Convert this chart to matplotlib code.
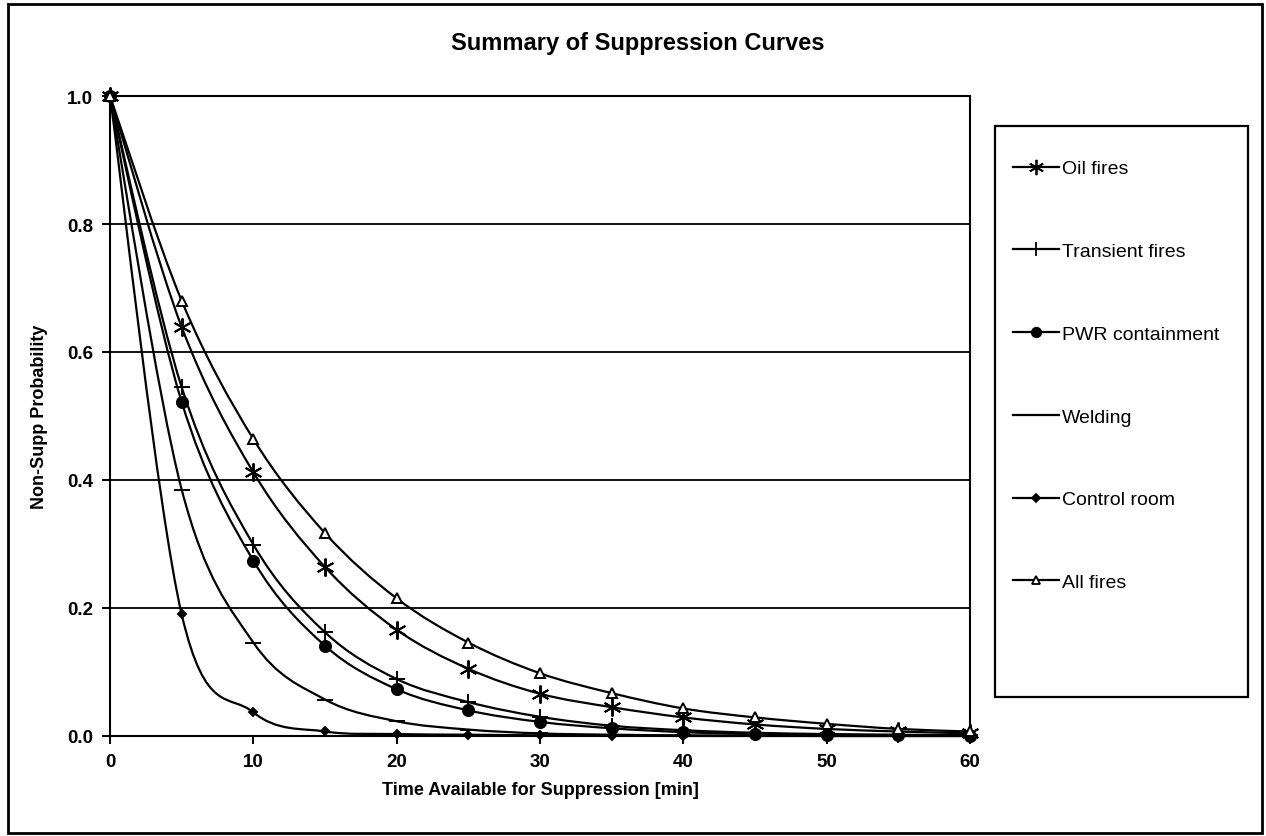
import numpy as np
import matplotlib
matplotlib.use("Agg")
import matplotlib.pyplot as plt
from matplotlib.path import Path
from matplotlib.patches import PathPatch, Rectangle
from matplotlib.lines import Line2D

plt.rcParams['font.family'] = ['Liberation Sans', 'DejaVu Sans']

# Time available for suppression [min]
minutes = [0, 5, 10, 15, 20, 25, 30, 35, 40, 45, 50, 55, 60]

# Non-suppression probability per fire category
oil_fires = [1.0, 0.639, 0.412, 0.264, 0.166, 0.105, 0.066, 0.045, 0.029, 0.018, 0.011, 0.007, 0.004]
transient_fires = [1.0, 0.545, 0.299, 0.162, 0.089, 0.053, 0.030, 0.016, 0.009, 0.005, 0.003, 0.002, 0.001]
pwr_containment = [1.0, 0.522, 0.274, 0.141, 0.073, 0.040, 0.022, 0.012, 0.006, 0.003, 0.002, 0.001, 0.0005]
welding = [1.0, 0.385, 0.146, 0.057, 0.023, 0.010, 0.004, 0.002, 0.001, 0.0005, 0.0, 0.0, 0.0]
control_room = [1.0, 0.190, 0.037, 0.007, 0.003, 0.002, 0.001, 0.0005, 0.0, 0.0, 0.0, 0.0, 0.0]
all_fires = [1.0, 0.680, 0.464, 0.317, 0.215, 0.146, 0.098, 0.067, 0.043, 0.029, 0.019, 0.011, 0.007]

series_labels = ["Oil fires", "Transient fires", "PWR containment",
                 "Welding", "Control room", "All fires"]
series_values = [oil_fires, transient_fires, pwr_containment,
                 welding, control_room, all_fires]

# marker styles: (marker, size, face colour)
marker_styles = [
    ((6, 2, 0), 13, 'black'),
    ('+', 12, 'black'),
    ('o', 8, 'black'),
    ('_', 11, 'black'),
    ('D', 4.5, 'black'),
    ('^', 6.5, 'white'),
]


def smooth_path(xs, ys):
    """Cubic Bezier path through the points (spreadsheet-style smoothing)."""
    pts = np.column_stack([xs, ys]).astype(float)
    n = len(pts)
    verts = [pts[0]]
    codes = [Path.MOVETO]
    for i in range(n - 1):
        p0 = pts[i - 1] if i > 0 else pts[i]
        p1 = pts[i]
        p2 = pts[i + 1]
        p3 = pts[i + 2] if i + 2 < n else pts[i + 1]
        c1 = p1 + (p2 - p0) / 6.0
        c2 = p2 - (p3 - p1) / 6.0
        verts += [c1, c2, p2]
        codes += [Path.CURVE4] * 3
    return Path(verts, codes)


fig = plt.figure(figsize=(12.66, 8.37), dpi=100)
ax = fig.add_axes([0.0869, 0.1195, 0.6793, 0.7646])

# horizontal gridlines
for gy in [0.2, 0.4, 0.6, 0.8]:
    ax.axhline(gy, color='black', lw=1.3, zorder=1)

handles = []
for vals, label, (mk, ms, fc) in zip(series_values, series_labels, marker_styles):
    patch = PathPatch(smooth_path(minutes, vals), facecolor='none',
                      edgecolor='black', lw=1.6, zorder=2, clip_on=False)
    ax.add_patch(patch)
    ax.plot(minutes, vals, linestyle='none', marker=mk, markersize=ms,
            markerfacecolor=fc, markeredgecolor='black', markeredgewidth=1.4,
            zorder=3, clip_on=False)
    handles.append(Line2D([], [], color='black', lw=1.6, marker=mk,
                          markersize=ms * 0.85, markerfacecolor=fc,
                          markeredgecolor='black', markeredgewidth=1.3,
                          label=label))

ax.set_xlim(0, 60)
ax.set_ylim(0, 1.0)
ax.set_xticks(range(0, 61, 10))
ax.set_yticks([0.0, 0.2, 0.4, 0.6, 0.8, 1.0])
ax.set_yticklabels([f"{v:.1f}" for v in [0.0, 0.2, 0.4, 0.6, 0.8, 1.0]])
ax.tick_params(direction='out', length=6, width=1.4, labelsize=13.5, pad=6)
for lbl in ax.get_xticklabels() + ax.get_yticklabels():
    lbl.set_fontweight('bold')
for sp in ax.spines.values():
    sp.set_linewidth(1.5)

ax.set_xlabel("Time Available for Suppression [min]", fontsize=13,
              fontweight='bold', labelpad=8)
ax.set_ylabel("Non-Supp Probability", fontsize=13, fontweight='bold', labelpad=14)

fig.text(0.504, 0.9486, "Summary of Suppression Curves", ha='center', va='center',
         fontsize=17, fontweight='bold')

# legend box
fig.patches.append(Rectangle((0.786, 0.166), 0.1998, 0.682, transform=fig.transFigure,
                             facecolor='white', edgecolor='black', lw=1.6, zorder=0))
fig.legend(handles=handles, loc='upper left', bbox_to_anchor=(0.800, 0.808),
           frameon=False, fontsize=14, labelspacing=3.35, handlelength=2.4,
           handletextpad=0.15, borderpad=0, borderaxespad=0)

# outer chart border
fig.patches.append(Rectangle((0.0063, 0.0036), 0.9905, 0.9904, transform=fig.transFigure,
                             facecolor='none', edgecolor='black', lw=2.0, zorder=0))

fig.savefig("out.png", dpi=100)
